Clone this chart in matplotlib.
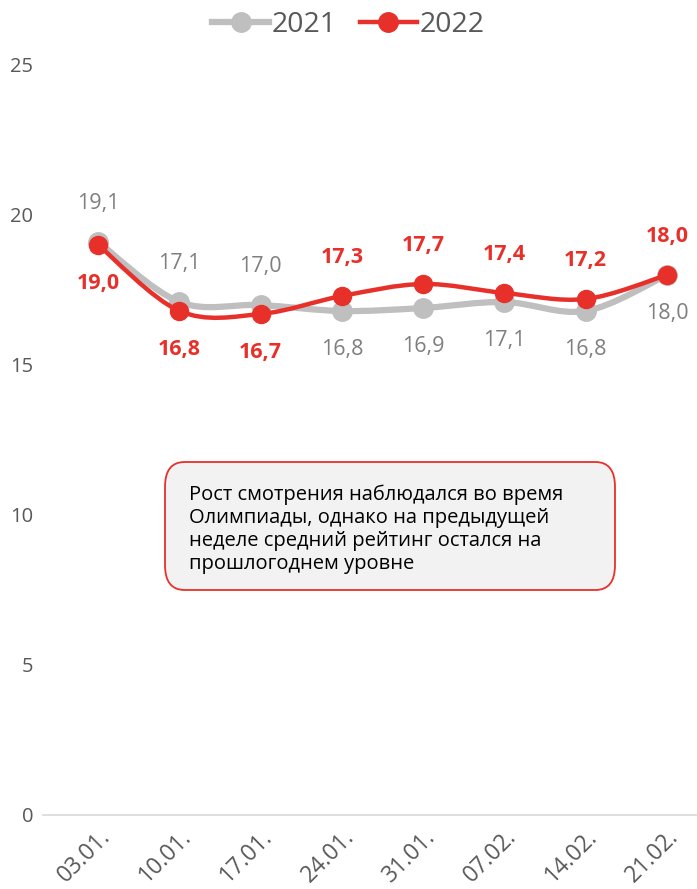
import matplotlib
matplotlib.use("Agg")
import matplotlib.pyplot as plt
from matplotlib.path import Path
from matplotlib.patches import PathPatch, FancyBboxPatch
from matplotlib.lines import Line2D
import matplotlib.transforms as mtransforms

plt.rcParams['font.family'] = ['Open Sans', 'DejaVu Sans']

# data
weeks = ["03.01.", "10.01.", "17.01.", "24.01.", "31.01.", "07.02.", "14.02.", "21.02."]
vals_2021 = [19.1, 17.1, 17.0, 16.8, 16.9, 17.1, 16.8, 18.0]
vals_2022 = [19.0, 16.8, 16.7, 17.3, 17.7, 17.4, 17.2, 18.0]
# label side: +1 above, -1 below
side_2021 = [1, 1, 1, -1, -1, -1, -1, -1]
side_2022 = [-1, -1, -1, 1, 1, 1, 1, 1]
note = ("Рост смотрения наблюдался во время\n"
        "Олимпиады, однако на предыдущей\n"
        "неделе средний рейтинг остался на\n"
        "прошлогоднем уровне")

GREY = "#bfbfbf"
RED = "#e8302a"
TXT = "#595959"


def smooth_path(xs, ys):
    # excel-like smoothed line: cubic bezier through the points
    verts = [(xs[0], ys[0])]
    codes = [Path.MOVETO]
    n = len(xs)
    for i in range(n - 1):
        x0, y0 = xs[max(i - 1, 0)], ys[max(i - 1, 0)]
        x1, y1 = xs[i], ys[i]
        x2, y2 = xs[i + 1], ys[i + 1]
        x3, y3 = xs[min(i + 2, n - 1)], ys[min(i + 2, n - 1)]
        c1 = (x1 + (x2 - x0) / 6, y1 + (y2 - y0) / 6)
        c2 = (x2 - (x3 - x1) / 6, y2 - (y3 - y1) / 6)
        verts += [c1, c2, (x2, y2)]
        codes += [Path.CURVE4] * 3
    return Path(verts, codes)


fig = plt.figure(figsize=(6.97, 8.89), dpi=100)
ax = fig.add_axes([43 / 697, 74 / 889, 654 / 697, 750 / 889])
x = list(range(len(weeks)))

for vals, col, lw, ms, z in [(vals_2021, GREY, 4.5, 14, 2), (vals_2022, RED, 3.2, 13, 3)]:
    ax.add_patch(PathPatch(smooth_path(x, vals), facecolor="none", edgecolor=col,
                           lw=lw, zorder=z, capstyle="round"))
    ax.plot(x, vals, linestyle="none", marker="o", ms=ms, color=col, zorder=z)

for i, v in enumerate(vals_2021):
    ax.annotate(f"{v:.1f}".replace(".", ","), (i, v), xytext=(0, 28 * side_2021[i]),
                textcoords="offset points", ha="center", va="center",
                fontsize=15.5, color="#7f7f7f")
for i, v in enumerate(vals_2022):
    ax.annotate(f"{v:.1f}".replace(".", ","), (i, v), xytext=(0, 28 * side_2022[i]),
                textcoords="offset points", ha="center", va="center",
                fontsize=15.5, color=RED, fontweight="bold")

ax.set_xlim(-0.68, 7.37)
ax.set_ylim(0, 25)
ax.set_yticks([0, 5, 10, 15, 20, 25])
ax.set_xticks(x)
ax.set_xticklabels(weeks, rotation=45, ha="right", va="top", rotation_mode="anchor")
offset = mtransforms.ScaledTranslation(11 / 72, 0, fig.dpi_scale_trans)
for lab in ax.get_xticklabels():
    lab.set_transform(lab.get_transform() + offset)
ax.tick_params(axis="both", length=0, labelcolor=TXT)
ax.tick_params(axis="y", pad=7, labelsize=14.5)
ax.tick_params(axis="x", pad=7, labelsize=16.5)
for s in ["top", "right", "left"]:
    ax.spines[s].set_visible(False)
ax.spines["bottom"].set_color("#d9d9d9")
ax.spines["bottom"].set_linewidth(1.2)

# note box
box = FancyBboxPatch((165 / 697, (889 - 590) / 889), 450 / 697, 128 / 889,
                     boxstyle="round,pad=0,rounding_size=0.028",
                     transform=fig.transFigure, facecolor="#f2f2f2",
                     edgecolor=RED, lw=1.3, zorder=5)
fig.patches.append(box)
fig.text(189 / 697, (889 - 529) / 889, note, fontsize=14.5, color="black",
         ha="left", va="center", linespacing=1.2, zorder=6)

handles = [Line2D([], [], color=GREY, lw=4.5, marker="o", ms=14),
           Line2D([], [], color=RED, lw=3.2, marker="o", ms=14)]
fig.legend(handles, ["2021", "2022"], loc="center", bbox_to_anchor=(0.5, 1 - 25 / 889),
           ncol=2, frameon=False, fontsize=20.5, labelcolor=TXT, handlelength=2.0,
           handletextpad=0.1, columnspacing=0.8)

fig.savefig("out.png", dpi=100)
